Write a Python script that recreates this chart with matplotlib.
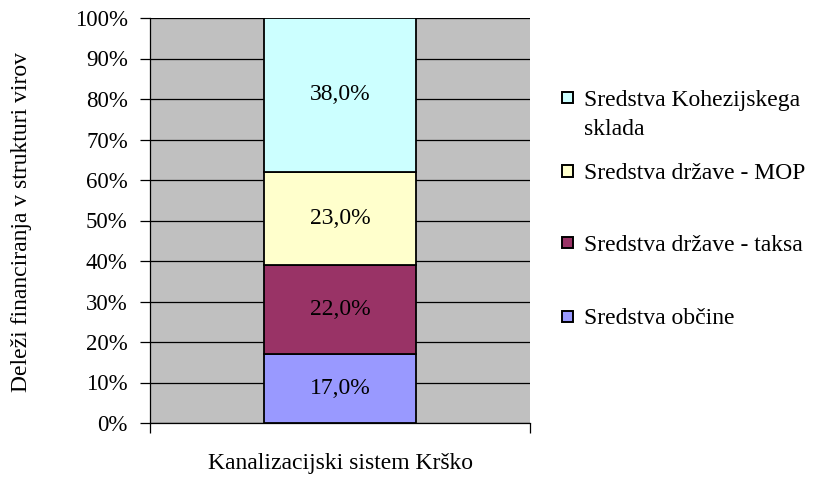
import matplotlib
matplotlib.use("Agg")
import matplotlib.pyplot as plt
from matplotlib.patches import Rectangle
from matplotlib.ticker import FuncFormatter, MultipleLocator

plt.rcParams['font.family'] = ['Liberation Serif', 'DejaVu Serif']

category = "Kanalizacijski sistem Krško"
series = ["Sredstva občine", "Sredstva države - taksa", "Sredstva države - MOP", "Sredstva Kohezijskega\nsklada"]
values = [17.0, 22.0, 23.0, 38.0]
colors = ["#9999FF", "#993366", "#FFFFCC", "#CCFFFF"]

FS = 17

fig = plt.figure(figsize=(8.16, 4.79), dpi=100)
ax = fig.add_axes([150/816, 1-423/479, 380/816, 405/479])
ax.set_facecolor("#C0C0C0")

bottom = 0
for name, v, c in zip(series, values, colors):
    ax.bar(0, v, width=0.4, bottom=bottom, color=c, edgecolor="black", linewidth=1.3, zorder=3)
    ax.text(0, bottom + v/2, f"{v:.1f}%".replace(".", ","), ha="center", va="center", fontsize=FS, zorder=4)
    bottom += v

ax.set_xlim(-0.5, 0.5)
ax.set_ylim(0, 100)
ax.yaxis.set_major_locator(MultipleLocator(10))
ax.yaxis.set_major_formatter(FuncFormatter(lambda y, p: f"{int(y)}%"))
ax.grid(axis="y", color="black", linewidth=0.9, zorder=1)
ax.set_axisbelow(True)
ax.set_xticks([-0.5, 0.5])
ax.set_xticklabels(["", ""])
ax.tick_params(axis="x", direction="out", length=7, width=0.9)
ax.tick_params(axis="y", direction="out", length=7, width=0.9, labelsize=16.5, pad=9)
for s in ["top", "right"]:
    ax.spines[s].set_visible(False)
ax.spines["left"].set_linewidth(0.9)
ax.spines["bottom"].set_linewidth(0.9)

fig.text(22/816, 1-222/479, "Deleži financiranja v strukturi virov", rotation=90,
         ha="center", va="center", fontsize=FS)
fig.text(340/816, 1-464/479, category, ha="center", va="center", fontsize=FS)

# legend (manual, Excel-like spacing)
leg_y = [316, 243, 171, 97.5]
for name, c, y in zip(series, colors, leg_y):
    fig.patches.append(Rectangle((562/816, 1-(y+5.5)/479), 11/816, 11/479, transform=fig.transFigure,
                                 facecolor=c, edgecolor="black", linewidth=1.4))
    fig.text(584/816, 1-(y-8)/479, name, ha="left", va="top", fontsize=FS, linespacing=1.55)

fig.savefig("out.png", dpi=100)
